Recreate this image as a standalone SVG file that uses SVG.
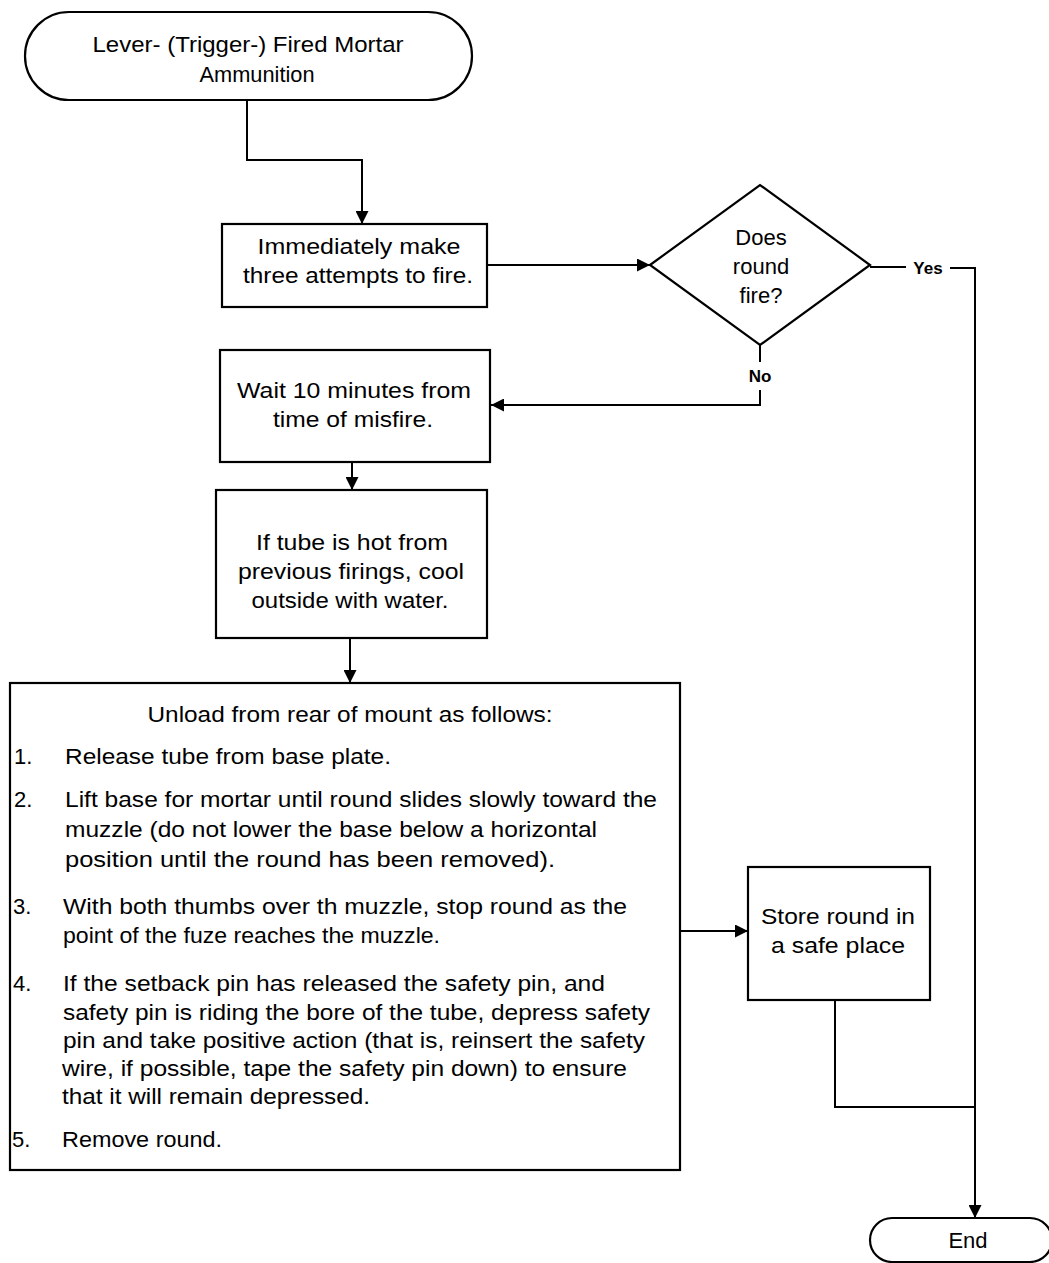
<svg xmlns="http://www.w3.org/2000/svg" width="1049" height="1263" viewBox="0 0 1049 1263">
<style>
.n{fill:#fff;stroke:#000;stroke-width:2.2}
.c{fill:none;stroke:#000;stroke-width:2}
.t{font-family:"Liberation Sans",Arial,sans-serif;font-size:22px;fill:#000}
.m{text-anchor:middle}
.s{font-size:17px;font-weight:bold}
</style>
<defs>
<marker id="a" viewBox="0 0 10 10" refX="10" refY="5" markerUnits="userSpaceOnUse" markerWidth="13" markerHeight="13" orient="auto">
<path d="M0,0 L10,5 L0,10 z" fill="#000"/>
</marker>
</defs>
<rect width="1049" height="1263" fill="#fff"/>
<g id="connectors">
<path class="c" d="M247,100 V160 H362 V224" marker-end="url(#a)"/>
<path class="c" d="M487,265 H650" marker-end="url(#a)"/>
<path class="c" d="M870,267 H906"/>
<path class="c" d="M950,268 H975 V1218" marker-end="url(#a)"/>
<path class="c" d="M760,345 V362"/>
<path class="c" d="M760,390 V405 H491" marker-end="url(#a)"/>
<path class="c" d="M352,462 V490" marker-end="url(#a)"/>
<path class="c" d="M350,638 V683" marker-end="url(#a)"/>
<path class="c" d="M680,931 H748" marker-end="url(#a)"/>
<path class="c" d="M835,1000 V1107 H975"/>
<text class="t s m" x="928" y="274">Yes</text>
<text class="t s m" x="760" y="382">No</text>
</g>
<g id="start">
<rect class="n" x="25" y="12" width="447" height="88" rx="44" ry="44"/>
<text class="t m" x="248" y="52" textLength="311" lengthAdjust="spacingAndGlyphs">Lever- (Trigger-) Fired Mortar</text>
<text class="t m" x="257" y="82" textLength="115" lengthAdjust="spacingAndGlyphs">Ammunition</text>
</g>
<g id="attempt">
<rect class="n" x="222" y="224" width="265" height="83"/>
<text class="t m" x="359" y="254" textLength="203" lengthAdjust="spacingAndGlyphs">Immediately make</text>
<text class="t m" x="358" y="283" textLength="230" lengthAdjust="spacingAndGlyphs">three attempts to fire.</text>
</g>
<g id="decision">
<polygon class="n" points="650,265 760,185 870,265 760,345"/>
<text class="t m" x="761" y="245">Does</text>
<text class="t m" x="761" y="274">round</text>
<text class="t m" x="761" y="303">fire?</text>
</g>
<g id="wait">
<rect class="n" x="220" y="350" width="270" height="112"/>
<text class="t m" x="354" y="398" textLength="234" lengthAdjust="spacingAndGlyphs">Wait 10 minutes from</text>
<text class="t m" x="353" y="427" textLength="160" lengthAdjust="spacingAndGlyphs">time of misfire.</text>
</g>
<g id="cool">
<rect class="n" x="216" y="490" width="271" height="148"/>
<text class="t m" x="352" y="550" textLength="192" lengthAdjust="spacingAndGlyphs">If tube is hot from</text>
<text class="t m" x="351" y="579" textLength="226" lengthAdjust="spacingAndGlyphs">previous firings, cool</text>
<text class="t m" x="350" y="608" textLength="197" lengthAdjust="spacingAndGlyphs">outside with water.</text>
</g>
<g id="unload">
<rect class="n" x="10" y="683" width="670" height="487"/>
<text class="t m" x="350" y="722" textLength="405" lengthAdjust="spacingAndGlyphs">Unload from rear of mount as follows:</text>
<text class="t" x="14" y="764">1.</text>
<text class="t" x="65" y="764" textLength="326" lengthAdjust="spacingAndGlyphs">Release tube from base plate.</text>
<text class="t" x="14" y="807">2.</text>
<text class="t" x="65" y="807" textLength="592" lengthAdjust="spacingAndGlyphs">Lift base for mortar until round slides slowly toward the</text>
<text class="t" x="65" y="837" textLength="532" lengthAdjust="spacingAndGlyphs">muzzle (do not lower the base below a horizontal</text>
<text class="t" x="65" y="867" textLength="490" lengthAdjust="spacingAndGlyphs">position until the round has been removed).</text>
<text class="t" x="13" y="914">3.</text>
<text class="t" x="63" y="914" textLength="564" lengthAdjust="spacingAndGlyphs">With both thumbs over th muzzle, stop round as the</text>
<text class="t" x="63" y="943" textLength="377" lengthAdjust="spacingAndGlyphs">point of the fuze reaches the muzzle.</text>
<text class="t" x="13" y="991">4.</text>
<text class="t" x="63" y="991" textLength="542" lengthAdjust="spacingAndGlyphs">If the setback pin has released the safety pin, and</text>
<text class="t" x="63" y="1020" textLength="587" lengthAdjust="spacingAndGlyphs">safety pin is riding the bore of the tube, depress safety</text>
<text class="t" x="63" y="1048" textLength="582" lengthAdjust="spacingAndGlyphs">pin and take positive action (that is, reinsert the safety</text>
<text class="t" x="62" y="1076" textLength="565" lengthAdjust="spacingAndGlyphs">wire, if possible, tape the safety pin down) to ensure</text>
<text class="t" x="62" y="1104" textLength="308" lengthAdjust="spacingAndGlyphs">that it will remain depressed.</text>
<text class="t" x="12" y="1147">5.</text>
<text class="t" x="62" y="1147" textLength="160" lengthAdjust="spacingAndGlyphs">Remove round.</text>
</g>
<g id="store">
<rect class="n" x="748" y="867" width="182" height="133"/>
<text class="t m" x="838" y="924" textLength="154" lengthAdjust="spacingAndGlyphs">Store round in</text>
<text class="t m" x="838" y="953" textLength="134" lengthAdjust="spacingAndGlyphs">a safe place</text>
</g>
<g id="end">
<rect class="n" x="870" y="1218" width="182" height="44" rx="22" ry="22"/>
<text class="t m" x="968" y="1248">End</text>
</g>
</svg>
